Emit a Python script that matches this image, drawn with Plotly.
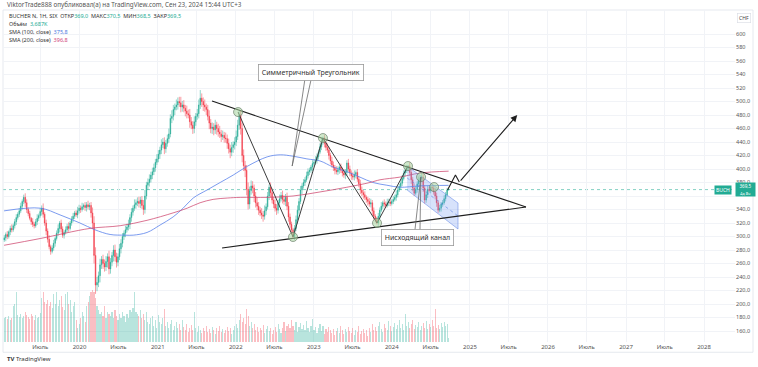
import plotly.graph_objects as go
import pandas as pd

# ---------------- data (weekly, BUCHER N, SIX) ----------------
START_DATE = "2019-01-14"
FIRST_OPEN = 295
CLOSES = [
    298, 303, 300, 307, 312, 310, 316, 322, 328, 333,
    338, 345, 352, 358, 350, 340, 334, 327, 322, 318,
    316, 322, 327, 331, 337, 342, 333, 320, 308, 296,
    285, 278, 283, 290, 297, 305, 312, 320, 311, 302,
    306, 310, 315, 312, 320, 326, 330, 335, 332, 338,
    342, 340, 344, 346, 343, 347, 344, 346, 335, 320,
    272, 228, 232, 242, 258, 266, 260, 255, 263, 270,
    252, 262, 272, 280, 270, 262, 270, 282, 290, 300,
    305, 310, 314, 318, 328, 336, 342, 347, 350, 352,
    349, 354, 346, 340, 360, 376, 380, 385, 391, 396,
    402, 410, 415, 422, 428, 436, 440, 430, 438, 445,
    452, 475, 478, 488, 492, 495, 500, 498, 492, 495,
    490, 486, 482, 480, 470, 465, 460, 470, 478, 482,
    495, 505, 500, 495, 492, 488, 478, 468, 460, 462,
    458, 465, 460, 455, 452, 448, 450, 446, 445, 438,
    430, 425, 432, 436, 440, 448, 465, 480, 460, 420,
    405, 398, 370, 348, 368, 375, 372, 360, 350, 345,
    339, 335, 332, 330, 338, 344, 360, 373, 365, 354,
    348, 342, 339, 350, 356, 361, 355, 352, 358, 345,
    329, 318, 310, 300, 312, 325, 339, 352, 369, 375,
    380, 384, 390, 396, 398, 403, 408, 410, 413, 418,
    425, 433, 440, 446, 438, 432, 428, 420, 412, 406,
    402, 398, 396, 399, 403, 398, 394, 391, 395, 409,
    400, 394, 390, 388, 392, 395, 385, 378, 369, 365,
    362, 358, 355, 352, 348, 350, 338, 330, 325, 320,
    330, 339, 345, 350, 348, 346, 350, 351, 349, 352,
    355, 358, 362, 369, 374, 379, 386, 394, 398, 401,
    404, 395, 384, 372, 364, 370, 378, 384, 386, 388,
    372, 354, 362, 370, 368, 373, 372, 366, 360, 350,
    339, 342, 348, 350, 356, 362, 369, 369.5,
]
WICK_UP = [
    4, 3, 5, 2, 4, 6, 3, 4, 5, 3,  4, 5, 3, 4, 6, 5, 3, 4, 2, 5,
    3, 4, 6, 3, 5, 4, 7, 3, 5, 4,  6, 3, 4, 5, 3, 4, 6, 3, 5, 4,
    3, 5, 4, 6, 3, 4, 5, 3, 4, 6,  5, 4, 6, 3, 5, 4, 6, 4, 5, 8,
    10, 12, 8, 6, 9, 5, 7, 6, 8, 5,  9, 6, 5, 7, 8, 6, 5, 7, 6, 5,
    4, 6, 5, 7, 5, 6, 4, 8, 5, 6,  7, 5, 6, 8, 9, 5, 6, 7, 5, 6,
    6, 5, 7, 6, 5, 8, 6, 7, 5, 6,  8, 6, 9, 7, 5, 8, 6, 7, 9, 6,
    7, 5, 8, 6, 9, 7, 6, 8, 5, 7,  8, 12, 7, 6, 8, 5, 7, 9, 6, 7,
    6, 8, 5, 7, 9, 6, 7, 5, 8, 6,  7, 6, 8, 5, 7, 9, 8, 6, 7, 8,
    9, 7, 8, 10, 6, 8, 7, 5, 6, 8,  6, 5, 7, 6, 8, 5, 6, 4, 7, 6,
    5, 7, 6, 4, 6, 5, 7, 6, 5, 7,  6, 5, 4, 3, 5, 6, 7, 5, 6, 4,
    5, 4, 6, 5, 4, 3, 5, 4, 6, 5,  4, 5, 6, 2, 5, 4, 6, 5, 4, 6,
    5, 4, 6, 5, 3, 5, 4, 6, 5, 4,  6, 5, 4, 5, 6, 3, 5, 4, 6, 5,
    4, 5, 3, 4, 5, 6, 4, 5, 3, 4,  5, 4, 6, 3, 5, 4, 6, 5, 4, 3,
    5, 4, 6, 5, 4, 6, 5, 4, 6, 5,  2, 6, 5, 4, 6, 5, 4, 5, 4, 6,
    5, 4, 6, 5, 4, 3, 5, 4, 6, 5,  4, 5, 3, 4, 5, 4, 3, 1,
]
WICK_DN = [
    3, 5, 4, 3, 5, 4, 3, 4, 5, 3,  4, 3, 5, 4, 6, 5, 4, 3, 5, 4,
    4, 3, 5, 4, 3, 6, 5, 4, 6, 5,  4, 5, 3, 4, 5, 3, 4, 6, 5, 4,
    5, 3, 4, 5, 3, 4, 5, 4, 3, 5,  4, 5, 3, 4, 5, 6, 4, 5, 7, 9,
    12, 13, 9, 7, 10, 6, 8, 7, 6, 9,  8, 7, 6, 9, 7, 8, 6, 5, 7, 6,
    5, 6, 4, 5, 7, 6, 5, 4, 6, 5,  6, 7, 5, 8, 6, 5, 7, 6, 5, 6,
    5, 6, 4, 5, 7, 6, 5, 8, 6, 5,  6, 5, 7, 6, 8, 5, 7, 6, 8, 7,
    6, 8, 7, 5, 9, 6, 8, 7, 6, 5,  7, 6, 8, 9, 7, 8, 6, 9, 7, 8,
    8, 6, 9, 7, 6, 8, 5, 7, 6, 8,  7, 9, 6, 8, 7, 6, 5, 7, 9, 10,
    8, 10, 9, 8, 7, 6, 8, 9, 7, 6,  7, 5, 6, 8, 5, 6, 4, 6, 7, 5,
    6, 5, 7, 5, 6, 4, 6, 5, 7, 6,  7, 5, 6, 3, 5, 4, 6, 5, 4, 6,
    4, 5, 3, 4, 5, 4, 6, 3, 4, 5,  4, 3, 5, 4, 6, 5, 4, 6, 5, 4,
    5, 6, 4, 5, 6, 4, 5, 4, 6, 5,  4, 5, 6, 4, 5, 6, 4, 5, 6, 5,
    6, 4, 5, 6, 4, 5, 6, 5, 4, 2,  4, 5, 3, 4, 5, 4, 3, 5, 4, 3,
    4, 3, 5, 4, 3, 5, 4, 3, 5, 4,  4, 5, 6, 5, 4, 3, 5, 4, 3, 5,
    6, 5, 4, 5, 3, 4, 5, 4, 5, 6,  4, 3, 5, 4, 3, 4, 3, 0.5,
]
VOLUMES_K = [
    24, 25, 23, 26, 22, 24, 36, 38, 50, 27,  25, 28, 24, 26, 30, 27, 25, 23, 28, 26,
    22, 27, 24, 25, 29, 44, 50, 40, 38, 42,  36, 40, 34, 48, 38, 50, 36, 42, 46, 35,
    32, 48, 50, 38, 42, 30, 36, 40, 22, 14,  18, 24, 30, 26, 20, 36, 40, 46, 50, 52,
    50, 44, 36, 32, 28, 30, 26, 36, 24, 30,  28, 26, 30, 24, 32, 26, 22, 28, 24, 30,
    26, 20, 28, 24, 32, 30, 34, 50, 30, 28,  26, 32, 24, 28, 22, 30, 20, 18, 24, 26,
    16, 22, 14, 27, 20, 18, 24, 33, 16, 20,  14, 18, 22, 12, 16, 20, 14, 18, 12, 22,
    15, 12, 18, 10, 14, 17, 12, 30, 14, 10,  16, 12, 9, 14, 11, 16, 10, 13, 9, 15,
    12, 8, 14, 11, 16, 10, 13, 9, 12, 15,  11, 14, 8, 12, 16, 18, 14, 22, 28, 20,
    24, 18, 33, 26, 16, 20, 14, 18, 12, 15,  10, 14, 12, 17, 9, 13, 16, 11, 14, 8,
    12, 15, 10, 18, 13, 9, 14, 20, 11, 16,  18, 14, 22, 16, 12, 20, 10, 15, 19, 13,
    17, 12, 21, 14, 10, 16, 23, 12, 15, 9,  14, 18, 11, 16, 8, 13, 10, 15, 12, 9,
    13, 7, 11, 14, 9, 16, 12, 8, 13, 10,  15, 11, 9, 14, 7, 12, 10, 16, 8, 11,
    13, 9, 12, 6, 14, 10, 18, 12, 15, 11,  16, 20, 13, 10, 18, 14, 12, 21, 16, 11,
    15, 19, 13, 17, 22, 14, 18, 12, 28, 16,  20, 14, 18, 22, 13, 17, 15, 20, 12, 16,
    19, 14, 21, 13, 18, 15, 22, 16, 33, 14,  17, 13, 19, 15, 20, 16, 18, 3.687,
]

SMA100_DATES = ["2019-01-13", "2019-07-01", "2019-10-02", "2020-01-03", "2020-03-13", "2020-05-23",
                "2020-08-01", "2020-09-08", "2020-11-12", "2021-01-12", "2021-03-14", "2021-04-30",
                "2021-06-16", "2021-08-20", "2021-10-20", "2021-12-20", "2022-02-24", "2022-05-28",
                "2022-07-28", "2022-09-26", "2022-11-30", "2023-01-30", "2023-04-01", "2023-06-05",
                "2023-08-05", "2023-10-05", "2023-12-09", "2024-02-08", "2024-05-12", "2024-09-23"]
SMA100_VALUES = [338, 342, 332, 320, 310, 303, 302, 302, 306, 317, 329, 342, 357, 369, 380, 391,
                 404, 418, 421, 419, 415, 412, 403, 396, 388, 380, 376, 373, 375, 375.8]
SMA200_DATES = ["2019-01-13", "2019-07-01", "2020-02-19", "2020-07-09", "2020-11-12", "2021-03-14",
                "2021-05-19", "2021-07-18", "2021-09-17", "2021-11-22", "2022-01-22", "2022-05-28",
                "2022-09-26", "2023-01-30", "2023-06-05", "2023-09-21", "2023-11-07", "2024-02-08",
                "2024-05-12", "2024-09-23"]
SMA200_VALUES = [287, 297, 312, 316, 324, 335, 342, 350, 355, 357, 358, 358, 360, 366, 373, 380,
                 384, 388, 394, 396.8]
LAST_PRICE = 369.5

# drawings (date, price)
TRI_UPPER = (["2021-09-12", "2025-09-20"], [500.7, 343.7])
TRI_LOWER = (["2021-10-29", "2025-09-20"], [283.0, 343.7])
ZIGZAG = (["2022-01-12", "2022-09-26", "2023-02-13", "2023-10-24", "2024-03-17"],
          [484.4, 299.3, 445.9, 320.0, 404.4])
PIVOTS = (["2022-01-12", "2022-09-26", "2023-02-13", "2023-10-24", "2024-03-17", "2024-05-17", "2024-07-17"],
          [484.4, 299.3, 445.9, 320.0, 404.4, 388.1, 373.3])
CHANNEL_DATES = ["2024-03-13", "2024-11-06"]
CHANNEL_TOP = [404.4, 349.6]
CHANNEL_MID = [386.7, 330.4]
CHANNEL_BOT = [368.9, 311.1]
FORECAST = (["2024-09-18", "2024-10-25", "2024-11-12"], [368.9, 391.1, 380.7])
FORECAST_TIP = ("2025-08-10", 480.0)
CALLOUT_TRI = {"text": "Симметричный Треугольник", "box": ("2022-12-19", 543.7),
               "from": (["2022-11-20", "2022-12-19"], [531.9, 531.9]), "to": ("2022-09-22", 404.4)}
CALLOUT_CH = {"text": "Нисходящий канал", "box": ("2024-04-29", 297.8),
              "from": (["2024-04-18", "2024-05-12"], [308.1, 308.1]), "to": ("2024-05-16", 388.1)}

X_TICKS = ["2019-07-01", "2020-01-01", "2020-07-01", "2021-01-01", "2021-07-01", "2022-01-01",
           "2022-07-01", "2023-01-01", "2023-07-01", "2024-01-01", "2024-07-01", "2025-01-01",
           "2025-07-01", "2026-01-01", "2026-07-01", "2027-01-01", "2027-07-01", "2028-01-01"]
X_TICK_TEXT = ["Июль", "2020", "Июль", "2021", "Июль", "2022", "Июль", "2023", "Июль", "2024",
               "Июль", "2025", "Июль", "2026", "Июль", "2027", "Июль", "2028"]
Y_TICKS = list(range(160, 620, 20))
HIDDEN_Y_TICKS = [360]  # covered by the last-price label in the reference
Y_TICK_TEXT = ["" if v in HIDDEN_Y_TICKS else (str(v) if v > 500 else f"{v},0") for v in Y_TICKS]

# ---------------- build ----------------
dates = pd.date_range(START_DATE, periods=len(CLOSES), freq="7D")
opens = [FIRST_OPEN] + CLOSES[:-1]
highs = [max(o, c) + w for o, c, w in zip(opens, CLOSES, WICK_UP)]
lows = [min(o, c) - w for o, c, w in zip(opens, CLOSES, WICK_DN)]

UP = "#22ab94"
DOWN = "#f23645"
vol_colors = ["rgba(34,171,148,0.32)" if c >= o else "rgba(242,54,69,0.32)" for o, c in zip(opens, CLOSES)]

FONT = "Noto Sans"
fig = go.Figure()

fig.add_trace(go.Bar(x=dates, y=VOLUMES_K, marker=dict(color=vol_colors, line=dict(width=0)),
                     width=7 * 86400000 * 0.75, yaxis="y2", hoverinfo="skip"))

fig.add_trace(go.Scatter(x=SMA100_DATES, y=SMA100_VALUES, mode="lines",
                         line=dict(color="rgba(90,130,235,0.8)", width=1, shape="spline"), hoverinfo="skip"))
fig.add_trace(go.Scatter(x=SMA200_DATES, y=SMA200_VALUES, mode="lines",
                         line=dict(color="rgba(205,70,110,0.75)", width=1, shape="spline"), hoverinfo="skip"))

# channel fill
fig.add_trace(go.Scatter(x=CHANNEL_DATES + CHANNEL_DATES[::-1], y=CHANNEL_TOP + CHANNEL_BOT[::-1],
                         fill="toself", fillcolor="rgba(110,150,240,0.28)", mode="lines",
                         line=dict(color="rgba(80,120,225,0.6)", width=0.8), hoverinfo="skip"))
fig.add_trace(go.Scatter(x=CHANNEL_DATES, y=CHANNEL_MID, mode="lines",
                         line=dict(color="rgba(80,120,225,0.7)", width=0.8, dash="dot"), hoverinfo="skip"))

fig.add_trace(go.Candlestick(x=dates, open=opens, high=highs, low=lows, close=CLOSES,
                             increasing=dict(line=dict(color=UP, width=0.5), fillcolor=UP),
                             decreasing=dict(line=dict(color=DOWN, width=0.5), fillcolor=DOWN),
                             whiskerwidth=0, hoverinfo="skip"))

# triangle and zigzag
for xs, ys in (TRI_UPPER, TRI_LOWER):
    fig.add_trace(go.Scatter(x=xs, y=ys, mode="lines", line=dict(color="#1e1e1e", width=1.1), hoverinfo="skip"))
fig.add_trace(go.Scatter(x=ZIGZAG[0], y=ZIGZAG[1], mode="lines", line=dict(color="#3c3c3c", width=1), hoverinfo="skip"))
fig.add_trace(go.Scatter(x=PIVOTS[0], y=PIVOTS[1], mode="markers",
                         marker=dict(size=9, color="rgba(170,215,160,0.55)", line=dict(color="rgba(110,130,110,0.9)", width=0.8)),
                         hoverinfo="skip"))
fig.add_trace(go.Scatter(x=FORECAST[0], y=FORECAST[1], mode="lines", line=dict(color="#1e1e1e", width=1.1), hoverinfo="skip"))

# callout pointer lines
for c in (CALLOUT_TRI, CALLOUT_CH):
    for fx, fy in zip(*c["from"]):
        fig.add_trace(go.Scatter(x=[fx, c["to"][0]], y=[fy, c["to"][1]], mode="lines",
                                 line=dict(color="#6a6a6a", width=0.8), hoverinfo="skip"))

ann = []
ann.append(dict(x=FORECAST_TIP[0], y=FORECAST_TIP[1], ax=FORECAST[0][-1], ay=FORECAST[1][-1],
                xref="x", yref="y", axref="x", ayref="y", showarrow=True, arrowhead=2, arrowsize=1.2,
                arrowwidth=1.1, arrowcolor="#1e1e1e", text=""))
for c in (CALLOUT_TRI, CALLOUT_CH):
    ann.append(dict(x=c["box"][0], y=c["box"][1], xref="x", yref="y", text=c["text"], showarrow=False,
                    font=dict(family=FONT, size=7, color="#333"), bgcolor="white", bordercolor="#9a9a9a",
                    borderwidth=0.8, borderpad=3))

# header
GRN = "#22ab94"
ann += [
    dict(x=0.003, y=1.016, xref="paper", yref="paper", xanchor="left", yanchor="middle", showarrow=False,
         text="ViktorTrade888 опубликовал(а) на TradingView.com, Сен 23, 2024 15:44 UTC+3",
         font=dict(family=FONT, size=6.3, color="#555")),
    dict(x=0.005, y=0.982, xref="paper", yref="paper", xanchor="left", yanchor="middle", showarrow=False,
         text=f"BUCHER N, 1Н, SIX  ОТКР<span style='color:{GRN}'>369,0</span>  МАКС<span style='color:{GRN}'>370,5</span>  "
              f"МИН<span style='color:{GRN}'>368,5</span>  ЗАКР<span style='color:{GRN}'>369,5</span>",
         font=dict(family=FONT, size=5.5, color="#333")),
    dict(x=0.005, y=0.958, xref="paper", yref="paper", xanchor="left", yanchor="middle", showarrow=False,
         text=f"Объём  <span style='color:{GRN}'>3,687K</span>", font=dict(family=FONT, size=5.5, color="#333")),
    dict(x=0.005, y=0.934, xref="paper", yref="paper", xanchor="left", yanchor="middle", showarrow=False,
         text="SMA (100, close)  <span style='color:#4a78e0'>375,8</span>", font=dict(family=FONT, size=5.5, color="#333")),
    dict(x=0.005, y=0.910, xref="paper", yref="paper", xanchor="left", yanchor="middle", showarrow=False,
         text="SMA (200, close)  <span style='color:#d0457a'>396,8</span>", font=dict(family=FONT, size=5.5, color="#333")),
    dict(x=1.0125, y=0.976, xref="paper", yref="paper", xanchor="center", yanchor="middle", showarrow=False,
         text="CHF", font=dict(family=FONT, size=5, color="#444"), bgcolor="white", bordercolor="#d8dbe3",
         borderwidth=0.6, borderpad=1.5),
    dict(x=1.0, y=LAST_PRICE, xref="paper", yref="y", xanchor="left", yanchor="middle", showarrow=False,
         text=" ", bgcolor=UP, width=19, height=13, borderpad=0),
    dict(x=1.0, y=LAST_PRICE, xref="paper", yref="y", xanchor="left", yanchor="middle", yshift=3.3, showarrow=False,
         text="369,5", font=dict(family=FONT, size=4.6, color="white"), width=19, height=6, borderpad=0),
    dict(x=1.0, y=LAST_PRICE, xref="paper", yref="y", xanchor="left", yanchor="middle", yshift=-3.3, showarrow=False,
         text="4д 8ч", font=dict(family=FONT, size=4.0, color="white"), width=19, height=6, borderpad=0),
    dict(x=0.996, y=LAST_PRICE, xref="paper", yref="y", xanchor="right", yanchor="middle", showarrow=False,
         text="BUCH", font=dict(family=FONT, size=5, color="white"), bgcolor=UP, borderpad=1),
    dict(x=0.003, y=-0.052, xref="paper", yref="paper", xanchor="left", yanchor="middle", showarrow=False,
         text="<b>TV</b> TradingView", font=dict(family=FONT, size=6, color="#333")),
]

shapes = [
    dict(type="line", xref="paper", yref="y", x0=0, x1=1, y0=LAST_PRICE, y1=LAST_PRICE,
         line=dict(color="rgba(34,171,148,0.7)", width=0.8, dash="dot"), layer="below"),
    dict(type="rect", xref="paper", yref="paper", x0=0, x1=1.0246, y0=-0.031, y1=1.0,
         line=dict(color="#e0e3eb", width=0.8), layer="below"),
]

fig.update_layout(
    width=758, height=367,
    margin=dict(l=3, r=23, t=10, b=25),
    paper_bgcolor="white", plot_bgcolor="white",
    showlegend=False, bargap=0,
    font=dict(family=FONT, size=6, color="#555"),
    annotations=ann, shapes=shapes,
    xaxis=dict(type="date", range=["2019-01-08", "2028-05-25"], rangeslider=dict(visible=False),
               tickvals=X_TICKS, ticktext=X_TICK_TEXT, showgrid=True, gridcolor="#f1f3f7", gridwidth=0.6,
               ticks="", tickfont=dict(family=FONT, size=6, color="#555"), zeroline=False, showline=False),
    yaxis=dict(range=[143.7, 635.6], side="right", tickvals=Y_TICKS, ticktext=Y_TICK_TEXT,
               showgrid=True, gridcolor="#f1f3f7", gridwidth=0.6, ticks="", zeroline=False, showline=False,
               tickfont=dict(family=FONT, size=5.5, color="#555")),
    yaxis2=dict(range=[0, 332], overlaying="y", visible=False, fixedrange=True),
)

fig.write_html("out.html", config={"displayModeBar": False},
               post_script="document.body.style.margin='0';document.body.style.overflow='hidden';")
